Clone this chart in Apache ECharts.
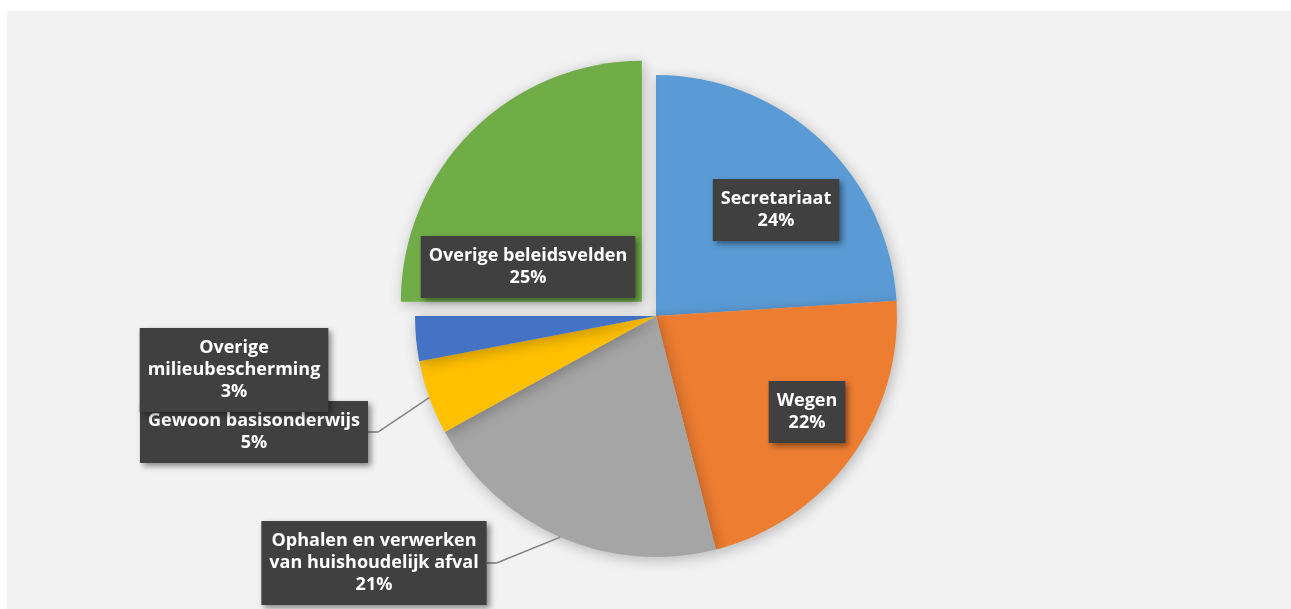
<!DOCTYPE html>
<html>
<head>
<meta charset="utf-8">
<script src="https://cdn.jsdelivr.net/npm/echarts@6/dist/echarts.min.js"></script>
<style>
  html, body { margin: 0; padding: 0; background: #fff; }
  #chart { width: 1291px; height: 609px; }
</style>
</head>
<body>
<div id="chart"></div>
<script>
// categories and shares (percent)
const categories = [
  'Secretariaat',
  'Wegen',
  'Ophalen en verwerken\nvan huishoudelijk afval',
  'Gewoon basisonderwijs',
  'Overige\nmilieubescherming',
  'Overige beleidsvelden'
];
const values = [24, 22, 21, 5, 3, 25];
const colors = ['#5B9BD5', '#ED7D31', '#A5A5A5', '#FFC000', '#4472C4', '#70AD47'];

// label box centres (layout only)
const labelPos = [[776, 210], [807, 412], [374, 563], [254, 432], [234, 370], [528, 267]];
const outsideLabels = [2, 3, 4];

let chart = echarts.init(document.getElementById('chart'));

const pieCenter = [656, 316];
const pieRadius = 241;

let option = {
  backgroundColor: '#ffffff',
  animation: false,
  graphic: [{
    type: 'rect',
    z: -10,
    shape: {x: 7, y: 11, width: 1284, height: 598},
    style: {fill: '#F2F2F2'}
  }],
  series: [
    // slices (the last one pulled out)
    {
      type: 'pie',
      center: pieCenter,
      radius: pieRadius,
      startAngle: 90,
      clockwise: true,
      selectedMode: 'single',
      selectedOffset: 20,
      silent: true,
      itemStyle: {
        shadowBlur: 14,
        shadowColor: 'rgba(0,0,0,0.25)',
        shadowOffsetX: 2,
        shadowOffsetY: 3
      },
      label: {show: false},
      labelLine: {show: false},
      data: categories.map((name, i) => ({
        name: name,
        value: values[i],
        selected: i === 5,
        itemStyle: {color: colors[i]}
      })),
      emphasis: {disabled: true}
    },
    // same data again, invisible, only to carry the data labels
    {
      type: 'pie',
      center: pieCenter,
      radius: pieRadius,
      startAngle: 90,
      clockwise: true,
      silent: true,
      z: 3,
      itemStyle: {color: 'rgba(0,0,0,0)'},
      label: {
        formatter: p => p.name + '\n' + Math.round(p.percent) + '%',
        color: '#ffffff',
        fontFamily: 'Open Sans',
        fontWeight: 'bold',
        fontSize: 18,
        lineHeight: 22,
        backgroundColor: '#404040',
        padding: [9, 8, 9, 8],
        align: 'center',
        shadowBlur: 6,
        shadowColor: 'rgba(0,0,0,0.45)',
        shadowOffsetX: 3,
        shadowOffsetY: 3
      },
      labelLine: {
        lineStyle: {color: '#7F7F7F', width: 1.5}
      },
      labelLayout: params => ({
        x: labelPos[params.dataIndex][0],
        y: labelPos[params.dataIndex][1],
        align: 'center',
        verticalAlign: 'middle'
      }),
      data: categories.map((name, i) => ({
        name: name,
        value: values[i],
        label: {position: outsideLabels.includes(i) ? 'outside' : 'inside'},
        labelLine: {show: i === 2 || i === 3, length: 20, length2: 10}
      })),
      emphasis: {disabled: true}
    }
  ]
};

option && chart.setOption(option);
</script>
</body>
</html>
